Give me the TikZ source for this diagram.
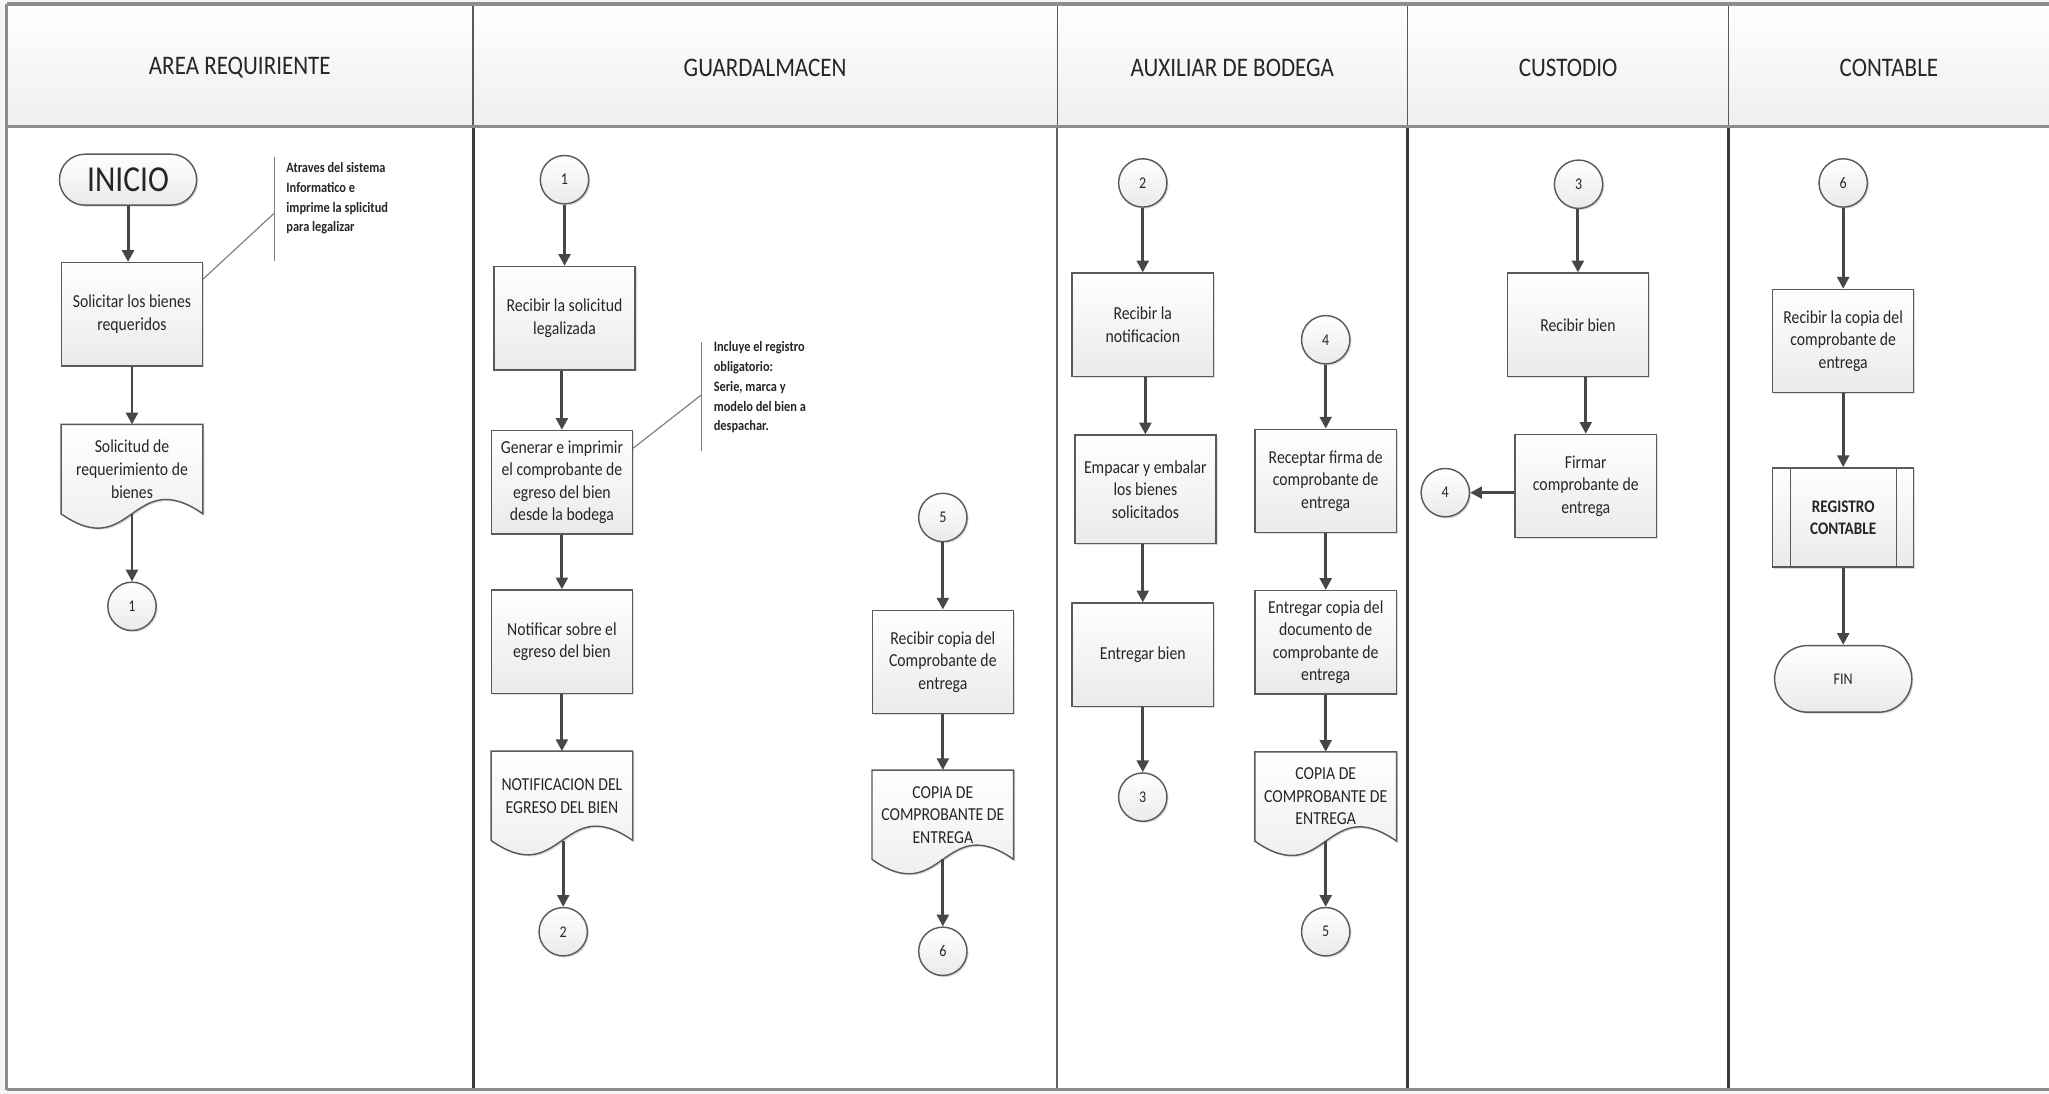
\documentclass[tikz,border=0pt]{standalone}
\usepackage{fontspec}
\setmainfont{Carlito}[FakeStretch=0.86]
\usetikzlibrary{arrows.meta,shapes.misc,shadows}

\definecolor{boxline}{HTML}{5A5A5A}
\definecolor{boxfill}{HTML}{EAEAEA}
\definecolor{ink}{HTML}{262626}
\definecolor{arrowc}{HTML}{474747}
\definecolor{frame}{HTML}{8C8C8C}
\definecolor{lanec}{HTML}{3C3C3C}
\definecolor{notec}{HTML}{808080}

\pgfdeclarelayer{bg}
\pgfsetlayers{bg,main}

\newcommand\fsz[2]{\fontsize{#1}{#2}\selectfont}
% vertical flow arrow from the bottom of #1 to the top of #2
\newcommand\flow[2]{\draw[arr] (#1.south -| #2.north) -- (#2.north);}
% document symbol with a wavy lower edge around node #1
\newcommand\docshape[1]{%
  \path[docfill] (#1.north west) -- (#1.north east) -- (#1.south east)
    .. controls ([yshift=38pt]#1.south) and ([yshift=-38pt]#1.south) .. (#1.south west) -- cycle;}

\tikzset{
  boxshade/.style={top color=white, bottom color=boxfill},
  softshadow/.style={drop shadow={shadow xshift=1.2pt, shadow yshift=-1.2pt, opacity=0.14, fill=black}},
  stepbox/.style={rectangle, draw=boxline, line width=1.1pt, boxshade, softshadow,
    minimum width=108pt, minimum height=79pt, inner sep=2pt, align=center, text=ink,
    font=\fsz{14}{17.3}},
  docnode/.style={rectangle, minimum width=108pt, minimum height=68pt, inner sep=2pt,
    align=center, text=ink, font=\fsz{14}{17.3}},
  docfill/.style={draw=boxline, line width=1.1pt, boxshade, softshadow},
  conn/.style={circle, draw=boxline, line width=1.1pt, boxshade, softshadow,
    minimum size=37pt, inner sep=0pt, text=ink, font=\fsz{12.5}{14}},
  term/.style={rounded rectangle, draw=boxline, line width=1.1pt, boxshade, softshadow,
    minimum width=109pt, inner sep=2pt, text=ink},
  arr/.style={draw=arrowc, line width=2.2pt, -{Triangle[length=9pt,width=9pt]}},
  noteline/.style={draw=notec, line width=0.9pt},
  notetext/.style={anchor=north west, align=left, text=ink, inner sep=0pt,
    font=\bfseries\fsz{11}{15.2}},
  lanehead/.style={text=ink, font=\fsz{20.5}{24}},
}

\begin{document}
\begin{tikzpicture}[x=1pt,y=-1pt]
\useasboundingbox (0,0) rectangle (1568,837);

% ---------------- lane titles
\node[lanehead] (h1) at (183.5,52) {AREA REQUIRIENTE};
\node[lanehead] (h2) at (585.5,52) {GUARDALMACEN};
\node[lanehead] (h3) at (943,52)   {AUXILIAR DE BODEGA};
\node[lanehead] (h4) at (1200,52)  {CUSTODIO};
\node[lanehead] (h5) at (1445.5,52){CONTABLE};

% ---------------- AREA REQUIRIENTE
\node[term, minimum height=39pt, font=\fsz{28}{32}] (ini) at (98,137.5) {INICIO};
\node[stepbox] (sol) at (101,240.5) {Solicitar los bienes\\requeridos};
\node[docnode] (d1) at (101,359) {Solicitud de\\requerimiento de\\bienes};
\node[conn] (c1a) at (101,464) {1};

\coordinate (n1top) at (210,120);
\coordinate (n1bot) at (210,200);
\coordinate (n1mid) at (210,163);
\node[notetext] (n1) at (219,124) {Atraves del sistema\\Informatico e\\imprime la splicitud\\para legalizar};

% ---------------- GUARDALMACEN
\node[conn] (c1b) at (432,137.5) {1};
\node[stepbox] (rsl) at (432,243.5) {Recibir la solicitud\\legalizada};
\node[stepbox] (gen) at (430,369) {Generar e imprimir\\el comprobante de\\egreso del bien\\desde la bodega};
\node[stepbox] (ntf) at (430,491) {Notificar sobre el\\egreso del bien};
\node[docnode] (d2) at (430,609) {NOTIFICACION DEL\\EGRESO DEL BIEN};
\node[conn] (c2a) at (431,713) {2};

\coordinate (n2top) at (537,262);
\coordinate (n2bot) at (537,345);
\coordinate (n2mid) at (537,302);
\node[notetext] (n2) at (546,261) {Incluye el registro\\obligatorio:\\Serie, marca y\\modelo del bien a\\despachar.};

\node[conn] (c5b) at (721.5,396) {5};
\node[stepbox] (rcc) at (721.5,506.5) {Recibir copia del\\Comprobante de\\entrega};
\node[docnode] (d3) at (721.5,623.5) {COPIA DE\\COMPROBANTE DE\\ENTREGA};
\node[conn] (c6a) at (721.5,728) {6};

% ---------------- AUXILIAR DE BODEGA
\node[conn] (c2b) at (874.5,140) {2};
\node[stepbox] (rln) at (874.5,248.5) {Recibir la\\notificacion};
\node[stepbox, minimum height=83pt] (emp) at (876.5,374.5) {Empacar y embalar\\los bienes\\solicitados};
\node[stepbox] (ebn) at (874.5,501) {Entregar bien};
\node[conn] (c3a) at (874.5,610) {3};

\node[conn] (c4b) at (1014.5,260) {4};
\node[stepbox] (rfc) at (1014.5,368) {Receptar firma de\\comprobante de\\entrega};
\node[stepbox] (ecd) at (1014.5,491.5) {Entregar copia del\\documento de\\comprobante de\\entrega};
\node[docnode] (d4) at (1014.5,609.5) {COPIA DE\\COMPROBANTE DE\\ENTREGA};
\node[conn] (c5a) at (1014.5,713) {5};

% ---------------- CUSTODIO
\node[conn] (c3b) at (1208,141) {3};
\node[stepbox] (rbn) at (1207.5,248.5) {Recibir bien};
\node[stepbox] (fir) at (1213.5,372) {Firmar\\comprobante de\\entrega};
\node[conn] (c4a) at (1106,377) {4};

% ---------------- CONTABLE
\node[conn] (c6b) at (1410.5,140) {6};
\node[stepbox] (rcp) at (1410.5,261) {Recibir la copia del\\comprobante de\\entrega};
\node[stepbox, minimum height=76pt, font=\bfseries\fsz{13.5}{17}] (reg) at (1410.5,396) {REGISTRO\\CONTABLE};
\draw[draw=boxline, line width=0.9pt] ([xshift=14pt]reg.north west) -- ([xshift=14pt]reg.south west);
\draw[draw=boxline, line width=0.9pt] ([xshift=-14pt]reg.north east) -- ([xshift=-14pt]reg.south east);
\node[term, minimum height=51pt, font=\fsz{12.5}{14}] (fin) at (1410.5,519.5) {FIN};

% ---------------- connectors
\draw[arr] (ini.south) -- (ini.south |- sol.north);
\flow{sol}{d1}
\flow{d1}{c1a}
\draw[noteline] (n1top) -- (n1bot);
\draw[noteline] ([yshift=-13pt]sol.north east) -- (n1mid);

\flow{c1b}{rsl}
\flow{rsl}{gen}
\flow{gen}{ntf}
\flow{ntf}{d2}
\flow{d2}{c2a}
\draw[noteline] (n2top) -- (n2bot);
\draw[noteline] ([yshift=-14pt]gen.north east) -- (n2mid);

\flow{c5b}{rcc}
\flow{rcc}{d3}
\flow{d3}{c6a}

\flow{c2b}{rln}
\flow{rln}{emp}
\flow{emp}{ebn}
\flow{ebn}{c3a}

\flow{c4b}{rfc}
\flow{rfc}{ecd}
\flow{ecd}{d4}
\flow{d4}{c5a}

\flow{c3b}{rbn}
\flow{rbn}{fir}
\draw[arr] (fir.west |- c4a.east) -- (c4a.east);

\flow{c6b}{rcp}
\flow{rcp}{reg}
\flow{reg}{fin}

% ---------------- swimlane frame and document symbols
\begin{pgfonlayer}{bg}
  \fill[gray!8] (0,0) rectangle (1568,837);
  \fill[white] (5,97) rectangle (1568,834);
  \shade[top color=white, bottom color=gray!13] (5,3) rectangle (1568,97);
  \foreach \x in {362,809,1077,1323}
    \draw[draw=lanec!85, line width=0.9pt] (\x,3) -- (\x,97);
  \draw[draw=lanec, line width=2.3pt] (362,97) -- (362,834);
  \draw[draw=lanec!80, line width=1.4pt] (809,97) -- (809,834);
  \draw[draw=lanec, line width=2.3pt] (1077,97) -- (1077,834);
  \draw[draw=lanec, line width=2.1pt] (1323,97) -- (1323,834);
  \draw[draw=frame, line width=2.6pt] (5,97) -- (1568,97);
  \draw[draw=frame, line width=2.6pt] (5,3) -- (1568,3);
  \draw[draw=frame, line width=1.6pt] (5,3) -- (5,834);
  \draw[draw=frame, line width=2.2pt] (5,834) -- (1568,834);
  \docshape{d1}
  \docshape{d2}
  \docshape{d3}
  \docshape{d4}
\end{pgfonlayer}
\end{tikzpicture}
\end{document}
